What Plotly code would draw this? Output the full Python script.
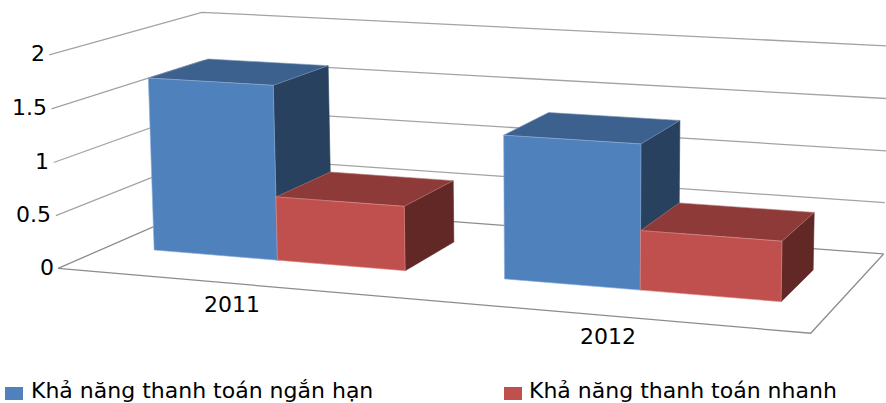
import numpy as np
import plotly.graph_objects as go

# ---- data ----
categories = ["2011", "2012"]
series_names = ["Khả năng thanh toán ngắn hạn", "Khả năng thanh toán nhanh"]
short_term = [1.665, 1.332]
quick = [0.608, 0.546]
value_ticks = [0, 0.5, 1, 1.5, 2]
value_tick_labels = ["0", "0.5", "1", "1.5", "2"]

# ---- look of the chart ----
W, H = 886, 403
FACE = [dict(front="#4F81BD", top="#3C618F", side="#28415F"),
        dict(front="#C0504D", top="#8E3A38", side="#622826")]
GRID = "#A3A3A3"
FLOOR = "#8C8C8C"
TXT = "#000000"
FONT = "DejaVu Sans"
BAR_HALF = 0.363          # width of one bar, in category units
DEPTH = (0.313, 0.721)    # front / back of the bars inside the box (0..1)
X_MAX = 2

# Perspective camera of the chart box: (category, depth, value) -> plot position
CAM = np.array([[337.355052, 175.091537, -4.849443, 58.076815],
                [16.396745, -40.255139, -107.266298, 268.417436],
                [-0.048052, 0.123618, -0.008368, 1.0]])


def proj(x, y, z):
    h = CAM @ np.array([x, y, z, 1.0])
    return h[0] / h[2], h[1] / h[2]


def path(points):
    pts = [proj(*p) for p in points]
    return [p[0] for p in pts], [p[1] for p in pts]


fig = go.Figure()


def add_line(points, color, width=1.3):
    xs, ys = path(points)
    fig.add_trace(go.Scatter(x=xs, y=ys, mode="lines", hoverinfo="skip", showlegend=False,
                             line=dict(color=color, width=width)))


def add_face(points, fill, edge, name):
    xs, ys = path(points + points[:1])
    fig.add_trace(go.Scatter(x=xs, y=ys, mode="lines", fill="toself", fillcolor=fill, name=name,
                             hoverinfo="name", showlegend=False,
                             line=dict(color=edge, width=0.6)))


# walls and floor
for v in value_ticks:
    col = FLOOR if v == 0 else GRID
    add_line([(0, 0, v), (0, 1, v), (X_MAX, 1, v)], col)
add_line([(0, 0, 0), (X_MAX, 0, 0), (X_MAX, 1, 0)], FLOOR)

# bars, painted left to right
y0, y1 = DEPTH
for c, _cat in enumerate(categories):
    centre = c + 0.5
    for s, vals in enumerate([short_term, quick]):
        a = centre - BAR_HALF + s * BAR_HALF
        b = a + BAR_HALF
        v = vals[c]
        col = FACE[s]
        name = series_names[s]
        add_face([(b, y0, 0), (b, y1, 0), (b, y1, v), (b, y0, v)], col["side"], col["side"], name)
        add_face([(a, y0, v), (b, y0, v), (b, y1, v), (a, y1, v)], col["top"], "#7E93B0" if s == 0 else "#B07A78", name)
        add_face([(a, y0, 0), (b, y0, 0), (b, y0, v), (a, y0, v)], col["front"], "#8FB0D8" if s == 0 else "#E08F8C", name)

ann = []
for v, lab in zip(value_ticks, value_tick_labels):
    px, py = proj(0, 0, v)
    ann.append(dict(x=px - 2.5, y=py - 1, text=lab, xanchor="right", yanchor="middle", showarrow=False,
                    font=dict(family=FONT, size=22, color=TXT)))
for c, cat in enumerate(categories):
    px, py = proj(c + 0.5, 0, 0)
    ann.append(dict(x=px, y=py + 21, text=cat, xanchor="center", yanchor="middle", showarrow=False,
                    font=dict(family=FONT, size=22, color=TXT)))

shapes = []
for (sx, tx), name, col in zip([(5, 29), (504, 527)], series_names, FACE):
    shapes.append(dict(type="rect", xref="x", yref="y", x0=sx, x1=sx + 18, y0=387, y1=400,
                       fillcolor=col["front"], line=dict(width=0)))
    ann.append(dict(x=tx, y=390, text=name, xanchor="left", yanchor="middle", showarrow=False,
                    font=dict(family=FONT, size=22, color=TXT)))

fig.update_layout(width=W, height=H, margin=dict(l=0, r=0, t=0, b=0), showlegend=False,
                  paper_bgcolor="white", plot_bgcolor="white", annotations=ann, shapes=shapes,
                  xaxis=dict(range=[0, W], visible=False, fixedrange=True),
                  yaxis=dict(range=[H, 0], visible=False, fixedrange=True))
fig.write_html("out.html", config=dict(displayModeBar=False),
               post_script="document.body.style.margin='0';document.body.style.overflow='hidden';")
